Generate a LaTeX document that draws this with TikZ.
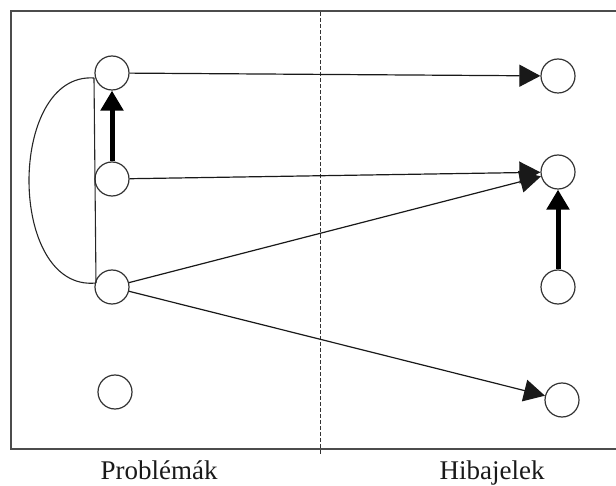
\documentclass[tikz,border=0pt]{standalone}
\usepackage{fontspec}
\setmainfont{Liberation Serif}
\usetikzlibrary{arrows.meta}
\tikzset{
  st/.style={circle, draw=black!80, line width=1.2pt, minimum size=34pt, inner sep=0pt, fill=white},
  thinarr/.style={draw=black!90, line width=1.2pt, -{Triangle[length=21pt,width=22pt]}},
  thickarr/.style={draw=black, line width=5pt, -{Triangle[length=20pt,width=22pt]}},
  plain/.style={draw=black!85, line width=1.1pt},
  frame/.style={draw=black!70, line width=1.8pt},
  lbl/.style={font=\fontsize{27}{30}\selectfont, text=black!90, anchor=base, inner sep=0pt}
}
\begin{document}
\begin{tikzpicture}[x=1pt,y=-1pt]
\useasboundingbox (0,0) rectangle (616,486);
% frame
\draw[frame] (617,11) -- (11,11) -- (11,449) -- (617,449);
\draw[black!80, line width=0.9pt, dash pattern=on 4pt off 2pt] (320,12) -- (320,455);
% nodes
\node[st] (p1) at (112,73) {};
\node[st] (p2) at (112,179) {};
\node[st] (p3) at (112,287) {};
\node[st] (p4) at (115,392) {};
\node[st] (h1) at (558,76) {};
\node[st] (h2) at (558,172) {};
\node[st] (h3) at (558,287) {};
\node[st] (h4) at (562,400) {};
% edges
\coordinate (a) at (94,78);
\coordinate (b) at (96,283);
\draw[plain] (a) .. controls (7,72) and (7,292) .. (b);
\draw[plain] (a) -- (b);
\draw[thinarr] (p1) -- (h1);
\draw[thinarr] (p2) -- (h2);
\draw[thinarr] (p3) -- (h2);
\draw[thinarr] (p3) -- (h4);
\draw[thickarr] (p2) -- (p1);
\draw[thickarr] (h3) -- (h2);
% labels
\node[lbl] (l1) at (159,479) {Problémák};
\node[lbl] (l2) at (492,479) {Hibajelek};
\end{tikzpicture}
\end{document}
